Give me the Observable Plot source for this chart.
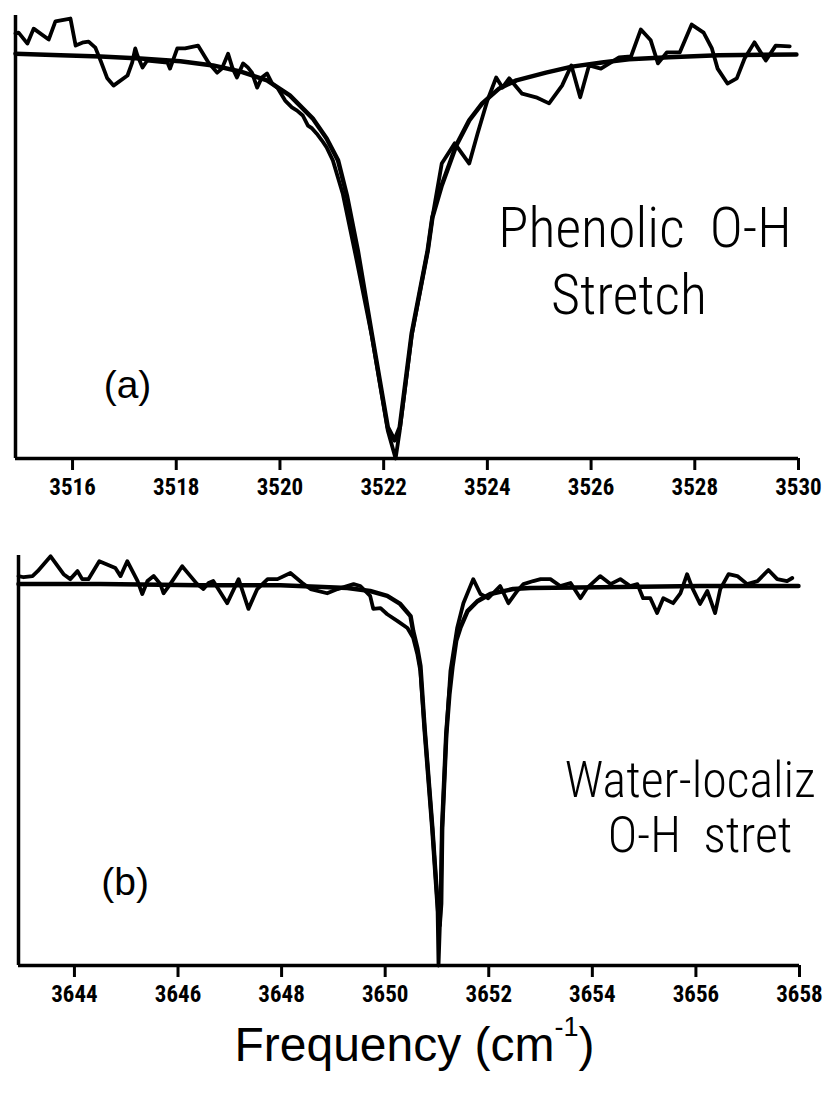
<!DOCTYPE html>
<html>
<head>
<meta charset="utf-8">
<script src="https://cdn.jsdelivr.net/npm/d3@7"></script>
<script src="https://cdn.jsdelivr.net/npm/@observablehq/plot@0.6"></script>
<style>
  html, body { margin: 0; padding: 0; background: #fff; }
  #page { position: relative; width: 829px; height: 1095px; background: #fff; }
  #panelA { position: absolute; left: 0; top: 0; }
  #panelB { position: absolute; left: 0; top: 510px; }
  #xlabel {
    position: absolute; left: 0; width: 829px; top: 1017px; text-align: center;
    font-family: "Liberation Sans", Arial, sans-serif; font-size: 48px; color: #000;
  }
  #xlabel sup { font-size: 27px; position: relative; top: -8px; }
</style>
</head>
<body>
<div id="page">
  <div id="panelA"></div>
  <div id="panelB"></div>
  <div id="xlabel">Frequency (cm<sup>-1</sup>)</div>
</div>
<script>
// ---- Panel (a): phenolic O-H stretch ----
const ticksA = [3516, 3518, 3520, 3522, 3524, 3526, 3528, 3530];
const domainA = [3514.90, 3530];

// measured spectrum (frequency, relative transmission)
const measNuA = [3514.90, 3514.96, 3515.13, 3515.25, 3515.54, 3515.67, 3515.96, 3516.06, 3516.21, 3516.31,
  3516.44, 3516.54, 3516.67, 3516.79, 3517.06, 3517.15, 3517.21, 3517.25, 3517.35, 3517.44,
  3517.83, 3517.88, 3518.02, 3518.17, 3518.42, 3518.62, 3518.79, 3518.88, 3519.00, 3519.08,
  3519.17, 3519.29, 3519.38, 3519.46, 3519.56, 3519.65, 3519.75, 3519.85, 3519.96, 3520.10,
  3520.23, 3520.33, 3520.44, 3520.54, 3520.62, 3520.71, 3520.81, 3520.90, 3521.02, 3521.21,
  3521.48, 3521.77, 3522.08, 3522.23, 3522.31, 3522.54, 3522.85, 3522.94, 3523.12, 3523.37,
  3523.65, 3523.81, 3524.00, 3524.17, 3524.29, 3524.42, 3524.67, 3524.94, 3525.19, 3525.44,
  3525.62, 3525.79, 3525.96, 3526.19, 3526.54, 3526.77, 3526.96, 3527.15, 3527.29, 3527.46,
  3527.71, 3527.94, 3528.17, 3528.33, 3528.44, 3528.63, 3528.81, 3528.96, 3529.15, 3529.37,
  3529.56, 3529.83];
const measTA = [1.052, 1.054, 1.027, 1.064, 1.037, 1.082, 1.089, 1.022, 1.030, 1.032,
  1.017, 0.985, 0.941, 0.923, 0.948, 0.980, 1.015, 0.998, 0.968, 0.985,
  0.980, 0.965, 1.015, 1.015, 1.022, 0.980, 0.955, 0.965, 1.002, 0.968,
  0.943, 0.978, 0.968, 0.955, 0.918, 0.943, 0.953, 0.928, 0.916, 0.886,
  0.869, 0.861, 0.849, 0.824, 0.817, 0.804, 0.787, 0.770, 0.738, 0.656,
  0.490, 0.304, 0.069, 0.000, 0.069, 0.304, 0.515, 0.597, 0.730, 0.780,
  0.730, 0.804, 0.886, 0.943, 0.918, 0.941, 0.903, 0.894, 0.879, 0.923,
  0.973, 0.894, 0.973, 0.965, 0.993, 0.995, 1.062, 1.035, 0.978, 1.005,
  1.005, 1.074, 1.054, 1.015, 0.965, 0.928, 0.941, 0.990, 1.030, 0.985,
  1.022, 1.020];

// fitted line shape
const fitNuA = [3514.90, 3515.77, 3516.54, 3517.31, 3518.08, 3518.71, 3519.23, 3519.75, 3520.19, 3520.63,
  3520.90, 3521.12, 3521.29, 3521.50, 3521.77, 3522.08, 3522.21, 3522.31, 3522.54, 3522.85,
  3522.94, 3523.12, 3523.40, 3523.65, 3523.90, 3524.23, 3524.56, 3525.13, 3525.63, 3526.21,
  3526.73, 3527.50, 3528.46, 3529.96];
const fitTA = [1.002, 0.998, 0.995, 0.990, 0.983, 0.973, 0.958, 0.936, 0.899, 0.842,
  0.792, 0.738, 0.651, 0.515, 0.309, 0.077, 0.045, 0.077, 0.309, 0.515,
  0.597, 0.676, 0.775, 0.837, 0.879, 0.916, 0.936, 0.955, 0.970, 0.980,
  0.988, 0.993, 0.998, 1.000];

const handNotesA = [
  {nu: 3527.04, t: 0.569, text: "Phenolic  O-H"},
  {nu: 3526.73, t: 0.403, text: "Stretch"}
];
const tagA = [{nu: 3517.06, t: 0.181, text: "(a)"}];

// ---- Panel (b): water-localized O-H stretch ----
const ticksB = [3644, 3646, 3648, 3650, 3652, 3654, 3656, 3658];
const domainB = [3642.92, 3658];

const measNuB = [3642.92, 3643.02, 3643.19, 3643.29, 3643.54, 3643.79, 3643.92, 3644.06, 3644.15, 3644.27,
  3644.48, 3644.79, 3644.89, 3645.02, 3645.22, 3645.31, 3645.41, 3645.53, 3645.66, 3645.72,
  3645.85, 3646.08, 3646.24, 3646.37, 3646.49, 3646.59, 3646.68, 3646.95, 3647.17, 3647.36,
  3647.53, 3647.73, 3647.92, 3648.17, 3648.40, 3648.56, 3648.88, 3649.08, 3649.39, 3649.52,
  3649.71, 3649.77, 3649.91, 3650.04, 3650.24, 3650.43, 3650.54, 3650.62, 3650.68, 3650.76,
  3650.91, 3651.01, 3651.03, 3651.07, 3651.10, 3651.18, 3651.26, 3651.39, 3651.51, 3651.70,
  3651.84, 3651.99, 3652.22, 3652.38, 3652.55, 3652.67, 3652.86, 3653.00, 3653.19, 3653.38,
  3653.58, 3653.77, 3653.90, 3654.15, 3654.35, 3654.54, 3654.73, 3654.87, 3654.98, 3655.12,
  3655.25, 3655.37, 3655.56, 3655.70, 3655.83, 3655.93, 3656.08, 3656.22, 3656.37, 3656.47,
  3656.63, 3656.80, 3656.99, 3657.19, 3657.40, 3657.57, 3657.76, 3657.86];
const measTB = [1.021, 1.018, 1.021, 1.034, 1.073, 1.026, 1.013, 1.034, 1.013, 1.013,
  1.060, 1.042, 1.021, 1.060, 1.008, 0.974, 1.008, 1.021, 1.000, 0.976,
  1.000, 1.047, 1.021, 1.000, 0.987, 1.003, 1.008, 0.950, 1.013, 0.935,
  0.987, 1.013, 1.013, 1.029, 1.003, 0.987, 0.976, 0.987, 1.000, 0.995,
  0.969, 0.935, 0.937, 0.921, 0.903, 0.885, 0.859, 0.817, 0.772, 0.623,
  0.361, 0.162, 0.000, 0.162, 0.361, 0.607, 0.772, 0.885, 0.950, 1.013,
  0.974, 0.963, 0.995, 0.950, 0.982, 1.000, 1.008, 1.013, 1.013, 0.995,
  1.003, 0.963, 0.990, 1.021, 1.000, 1.013, 0.995, 1.000, 0.963, 0.963,
  0.924, 0.963, 0.950, 0.976, 1.026, 0.990, 0.948, 0.982, 0.924, 0.987,
  1.026, 1.021, 1.000, 1.008, 1.037, 1.013, 1.008, 1.016];

const fitNuB = [3642.92, 3644.50, 3646.43, 3647.98, 3649.27, 3649.71, 3650.04, 3650.29, 3650.49, 3650.54,
  3650.62, 3650.68, 3650.76, 3650.91, 3651.01, 3651.05, 3651.08, 3651.10, 3651.18, 3651.24,
  3651.30, 3651.37, 3651.45, 3651.59, 3651.78, 3652.03, 3652.47, 3652.80, 3654.15, 3656.08,
  3657.98];
const fitTB = [1.000, 1.000, 0.997, 0.997, 0.990, 0.982, 0.969, 0.948, 0.916, 0.877,
  0.832, 0.785, 0.623, 0.361, 0.162, 0.105, 0.162, 0.361, 0.607, 0.712,
  0.785, 0.851, 0.885, 0.929, 0.955, 0.974, 0.987, 0.990, 0.992, 0.995,
  0.995];

const handNotesB = [
  {nu: 3655.89, t: 0.484, text: "Water-localiz"},
  {nu: 3656.08, t: 0.340, text: "O-H  stret"}
];
const tagB = [{nu: 3644.98, t: 0.217, text: "(b)"}];

const handFont = "'Roboto Condensed', 'DejaVu Sans Condensed', sans-serif";
const tickFont = "'Roboto Condensed', 'DejaVu Sans Condensed', sans-serif";
const printFont = "'Liberation Sans', Arial, sans-serif";

function toRows(nu, t) { return nu.map((v, i) => ({nu: v, t: t[i]})); }

function panel({ticks, domain, measNu, measT, fitNu, fitT, handNotes, tag, handSize, handSpacing,
                yMax, marginTop, marginBottom, marginLeft, marginRight}) {
  const meas = toRows(measNu, measT);
  const fit = toRows(fitNu, fitT);
  return Plot.plot({
    width: 829,
    height: 510,
    marginTop, marginBottom, marginLeft, marginRight,
    style: {background: "#fff", overflow: "visible"},
    x: {domain, axis: null},
    y: {domain: [0, yMax], axis: null},
    marks: [
      // frame: left edge and baseline of the plotting area
      Plot.ruleX([domain[0]], {stroke: "#000", strokeWidth: 3.5}),
      Plot.ruleY([0], {stroke: "#000", strokeWidth: 3.5}),
      Plot.axisX({
        ticks, tickSize: 12, tickPadding: 8, strokeWidth: 3,
        tickFormat: d => String(d),
        fontSize: 23, fontWeight: "bold", fontFamily: tickFont, fill: "#000", label: null
      }),
      Plot.line(fit, {x: "nu", y: "t", stroke: "#000", strokeWidth: 4.5, strokeLinejoin: "round"}),
      Plot.line(meas, {x: "nu", y: "t", stroke: "#000", strokeWidth: 3.8, strokeLinejoin: "round"}),
      Plot.text(handNotes, {
        x: "nu", y: "t", text: "text", fontSize: handSize, fontFamily: handFont,
        fontWeight: 300, fill: "#000", textAnchor: "middle", lineAnchor: "middle",
        style: `letter-spacing: ${handSpacing}px`
      }),
      Plot.text(tag, {
        x: "nu", y: "t", text: "text", fontSize: 39, fontFamily: printFont,
        fill: "#000", textAnchor: "middle", lineAnchor: "middle"
      })
    ]
  });
}

document.getElementById("panelA").append(panel({
  ticks: ticksA, domain: domainA, measNu: measNuA, measT: measTA, fitNu: fitNuA, fitT: fitTA,
  handNotes: handNotesA, tag: tagA, handSize: 56, handSpacing: 4,
  yMax: 1.0965, marginTop: 15, marginBottom: 52, marginLeft: 15, marginRight: 31
}));
document.getElementById("panelB").append(panel({
  ticks: ticksB, domain: domainB, measNu: measNuB, measT: measTB, fitNu: fitNuB, fitT: fitTB,
  handNotes: handNotesB, tag: tagB, handSize: 50, handSpacing: 1.5,
  yMax: 1.075, marginTop: 45, marginBottom: 55, marginLeft: 18, marginRight: 30
}));
</script>
</body>
</html>
